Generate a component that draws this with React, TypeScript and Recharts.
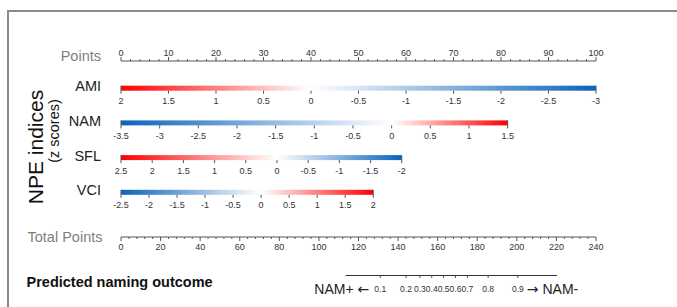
import React from 'react';
import { ComposedChart, Bar, XAxis, YAxis, Label } from 'recharts';

// ---------- data ----------
const rowNames = ['AMI', 'NAM', 'SFL', 'VCI'];
const rowValueStart = [2, -3.5, 2.5, -2.5];
const rowValueEnd = [-3, 1.5, -2, 2];
const rowPointsEnd = [100, 81.4, 59.1, 53.1];
const amiTicks = [2, 1.5, 1, 0.5, 0, -0.5, -1, -1.5, -2, -2.5, -3];
const namTicks = [-3.5, -3, -2.5, -2, -1.5, -1, -0.5, 0, 0.5, 1, 1.5];
const sflTicks = [2.5, 2, 1.5, 1, 0.5, 0, -0.5, -1, -1.5, -2];
const vciTicks = [-2.5, -2, -1.5, -1, -0.5, 0, 0.5, 1, 1.5, 2];
const rowTicks = [amiTicks, namTicks, sflTicks, vciTicks];

const pointsMajor = [0, 10, 20, 30, 40, 50, 60, 70, 80, 90, 100];
const pointsMinorStep = 2;
const totalMajor = [0, 20, 40, 60, 80, 100, 120, 140, 160, 180, 200, 220, 240];
const totalMinorStep = 4;

const probLabels = ['0.1', '0.2', '0.3', '0.4', '0.5', '0.6', '0.7', '0.8', '0.9'];
const probTotalPoints = [131, 144, 151, 157, 163, 169, 175, 185.5, 200.5];
const probLineRange = [113.5, 220.3];

// ---------- derived tables ----------
const rows = rowNames.map((name, i) => ({
  name,
  range: [0, rowPointsEnd[i]],
  vStart: rowValueStart[i],
  vEnd: rowValueEnd[i],
  ticks: rowTicks[i],
}));

const pointsTicks: number[] = [];
for (let v = 0; v <= pointsMajor[pointsMajor.length - 1]; v += pointsMinorStep) pointsTicks.push(v);
const totalTicks: number[] = [];
for (let v = 0; v <= totalMajor[totalMajor.length - 1]; v += totalMinorStep) totalTicks.push(v);

const probData = [{ name: 'prob', range: probLineRange }];

// ---------- styles ----------
const FONT = '"Liberation Sans", Arial, Helvetica, sans-serif';
const ARROWFONT = '"DejaVu Sans", sans-serif';
const RED = '#ff0000';
const BLUE = '#0a64bc';
const AXIS = '#555555';
const TICKTXT = '#333333';
const GREYTXT = '#808080';

const renderGradientBar = (props: any) => {
  const { x, y, width, height, payload } = props;
  const { vStart, vEnd, ticks, name } = payload;
  const id = `grad-${name}`;
  const f0 = (0 - vStart) / (vEnd - vStart);
  const startColor = vStart > 0 ? RED : BLUE;
  const endColor = vEnd > 0 ? RED : BLUE;
  const pos = (v: number) => x + ((v - vStart) / (vEnd - vStart)) * width;
  const bottom = y + height;
  const cy = y + height / 2;
  return (
    <g>
      <defs>
        <linearGradient id={id} x1="0" y1="0" x2="1" y2="0">
          <stop offset="0" stopColor={startColor} />
          <stop offset={f0} stopColor="#ffffff" />
          <stop offset="1" stopColor={endColor} />
        </linearGradient>
      </defs>
      <rect x={x} y={y} width={width} height={height} fill={`url(#${id})`} />
      {ticks.map((v: number) => {
        const tx = pos(v);
        const isEnd = v === vStart || v === vEnd;
        return (
          <g key={v}>
            <line x1={tx} x2={tx} y1={isEnd ? y : bottom} y2={bottom + 3} stroke={AXIS} strokeWidth={1} />
            <text x={tx} y={cy + 13} dy="0.35em" textAnchor="middle" fontSize={9} fill={TICKTXT} fontFamily={FONT}>
              {String(v)}
            </text>
          </g>
        );
      })}
    </g>
  );
};

const renderPointsTick = (props: any) => {
  const { x, y, payload } = props;
  const major = pointsMajor.includes(payload.value);
  return (
    <g>
      <line x1={x} x2={x} y1={y} y2={y - (major ? 4 : 2)} stroke={AXIS} strokeWidth={1} />
      {major && (
        <text x={x} y={y - 8.5} dy="0.35em" textAnchor="middle" fontSize={9} fill={TICKTXT} fontFamily={FONT}>
          {payload.value}
        </text>
      )}
    </g>
  );
};

const renderTotalTick = (props: any) => {
  const { x, y, payload } = props;
  const major = totalMajor.includes(payload.value);
  return (
    <g>
      <line x1={x} x2={x} y1={y} y2={y + (major ? 4 : 2)} stroke={AXIS} strokeWidth={1} />
      {major && (
        <text x={x} y={y + 10} dy="0.35em" textAnchor="middle" fontSize={9} fill={TICKTXT} fontFamily={FONT}>
          {payload.value}
        </text>
      )}
    </g>
  );
};

const renderRowTick = (props: any) => {
  const { x, y, payload } = props;
  return (
    <text x={x} y={y - 2} dy="0.35em" textAnchor="end" fontSize={14.5} fill="#222" fontFamily={FONT}>
      {payload.value}
    </text>
  );
};

const renderProbTick = (props: any) => {
  const { x, y, payload, index } = props;
  const i = probTotalPoints.indexOf(payload.value);
  const label = probLabels[i >= 0 ? i : index];
  return (
    <g>
      <line x1={x} x2={x} y1={y - 0.5} y2={y + 2} stroke={AXIS} strokeWidth={1} />
      <text x={x} y={y + 13} dy="0.35em" textAnchor="middle" fontSize={8.5} fill={TICKTXT} fontFamily={FONT}>
        {label}
      </text>
      {i === 0 && (
        <text x={x - 11} y={y + 13} dy="0.35em" textAnchor="end" fontSize={14} fill="#222" fontFamily={FONT}>
          NAM+ <tspan fontFamily={ARROWFONT}>←</tspan>
        </text>
      )}
      {i === probTotalPoints.length - 1 && (
        <text x={x + 9} y={y + 13} dy="0.35em" textAnchor="start" fontSize={14} fill="#222" fontFamily={FONT}>
          <tspan fontFamily={ARROWFONT}>→</tspan> NAM-
        </text>
      )}
    </g>
  );
};

const renderPointsTitle = () => (
  <text x={101} y={55.5} dy="0.35em" textAnchor="end" fontSize={14.5} fill={GREYTXT} fontFamily={FONT}>
    Points
  </text>
);

const renderTotalTitle = () => (
  <text x={102.5} y={236.5} dy="0.35em" textAnchor="end" fontSize={14.5} fill={GREYTXT} fontFamily={FONT}>
    Total Points
  </text>
);

const renderNpeTitle = () => (
  <g>
    <text x={36} y={147} dy="0.35em" textAnchor="middle" fontSize={21} fill="#111" fontFamily={FONT} transform="rotate(-90, 36, 147)">
      NPE indices
    </text>
    <text x={53.5} y={131} dy="0.35em" textAnchor="middle" fontSize={14.5} fill="#111" fontFamily={FONT} transform="rotate(-90, 53.5, 131)">
      (z scores)
    </text>
  </g>
);

const renderPredTitle = () => (
  <text x={26.5} y={281.5} dy="0.35em" textAnchor="start" fontSize={14.5} fontWeight="bold" fill="#111" fontFamily={FONT}>
    Predicted naming outcome
  </text>
);

export default function App() {
  return (
    <div style={{ position: 'relative', width: 677, height: 307, overflow: 'hidden', background: '#fff', fontFamily: FONT }}>
      <style>{'body{margin:0;}'}</style>
      <div
        style={{
          position: 'absolute',
          left: 7,
          top: 10,
          width: 700,
          height: 320,
          borderLeft: '2px solid #8a8a8a',
          borderTop: '2px solid #8a8a8a',
          boxSizing: 'border-box',
        }}
      />
      <div style={{ position: 'absolute', left: 0, top: 0 }}>
        <ComposedChart
          layout="vertical"
          width={677}
          height={307}
          data={rows}
          margin={{ top: 31, right: 81, bottom: 40, left: 61 }}
        >
          <XAxis
            xAxisId="pts"
            type="number"
            orientation="top"
            domain={[0, 100]}
            ticks={pointsTicks}
            interval={0}
            height={30}
            axisLine={{ stroke: AXIS, strokeWidth: 1 }}
            tickLine={false}
            tickSize={0}
            tickMargin={0}
            tick={renderPointsTick}
          >
            <Label content={renderPointsTitle} />
          </XAxis>
          <XAxis
            xAxisId="total"
            type="number"
            orientation="bottom"
            domain={[0, 240]}
            ticks={totalTicks}
            interval={0}
            height={30}
            axisLine={{ stroke: AXIS, strokeWidth: 1 }}
            tickLine={false}
            tickSize={0}
            tickMargin={0}
            tick={renderTotalTick}
            allowDataOverflow
          >
            <Label content={renderTotalTitle} />
          </XAxis>
          <YAxis
            type="category"
            dataKey="name"
            width={60}
            padding={{ top: 9.7, bottom: 27.5 }}
            axisLine={false}
            tickLine={false}
            tickSize={0}
            tickMargin={20}
            interval={0}
            tick={renderRowTick}
          >
            <Label content={renderNpeTitle} />
          </YAxis>
          <Bar xAxisId="pts" dataKey="range" barSize={5} shape={renderGradientBar} isAnimationActive={false} />
        </ComposedChart>
      </div>
      <div style={{ position: 'absolute', left: 0, top: 0 }}>
        <ComposedChart
          layout="vertical"
          width={677}
          height={307}
          data={probData}
          margin={{ top: 275, right: 81, bottom: 1, left: 121 }}
        >
          <XAxis
            type="number"
            orientation="bottom"
            domain={[0, 240]}
            ticks={probTotalPoints}
            interval={0}
            height={30}
            axisLine={false}
            tickLine={false}
            tickSize={0}
            tickMargin={0}
            tick={renderProbTick}
          >
            <Label content={renderPredTitle} />
          </XAxis>
          <YAxis type="category" dataKey="name" hide />
          <Bar dataKey="range" barSize={1.2} fill="#333" isAnimationActive={false} />
        </ComposedChart>
      </div>
    </div>
  );
}
